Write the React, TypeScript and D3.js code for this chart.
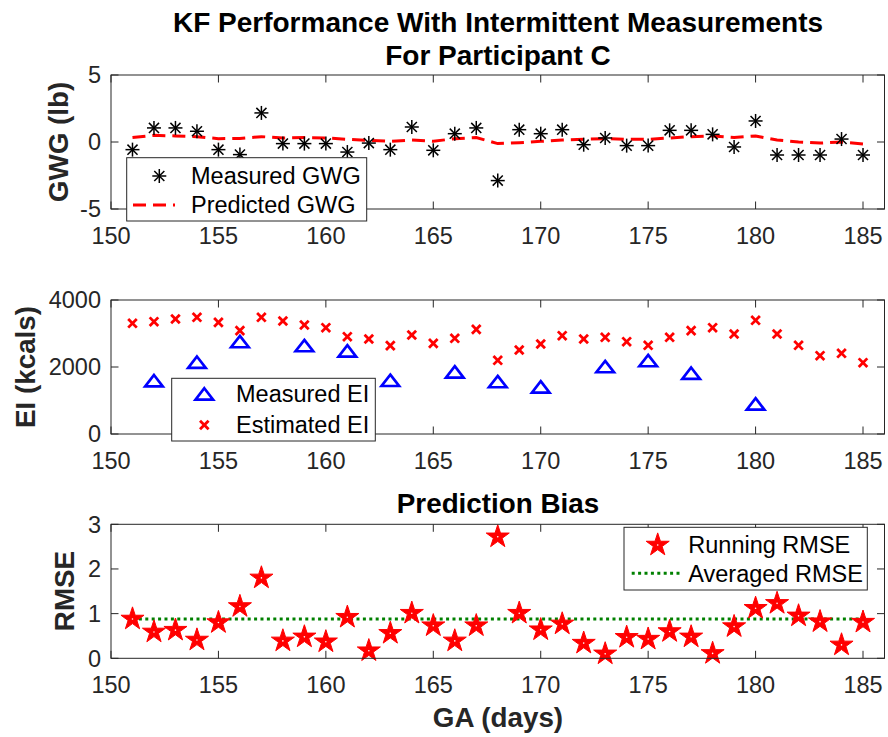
import React from "react";
import * as d3 from "d3";

const days = [151,152,153,154,155,156,157,158,159,160,161,162,163,164,165,166,167,168,169,170,171,172,173,174,175,176,177,178,179,180,181,182,183,184,185];
const gwgMeasured = [-0.57,1.05,1.05,0.8,-0.57,-0.94,2.17,-0.12,-0.12,-0.12,-0.75,-0.08,-0.57,1.12,-0.62,0.62,1.05,-2.88,0.92,0.62,0.92,-0.2,0.3,-0.27,-0.27,0.87,0.87,0.57,-0.37,1.57,-0.97,-0.97,-0.97,0.22,-0.97];
const gwgPredicted = [0.33,0.5,0.45,0.4,0.25,0.27,0.4,0.3,0.33,0.3,0.2,0.12,0.05,0.15,0.05,0.25,0.33,-0.12,-0.05,0.05,0.15,0.2,0.25,0.2,0.2,0.3,0.4,0.45,0.33,0.45,0.15,0,-0.08,0,-0.15];
const eiEstimated = [3304,3353,3433,3483,3333,3085,3483,3373,3254,3174,2905,2836,2637,2955,2706,2856,3124,2199,2507,2687,2935,2836,2886,2756,2647,2886,3085,3174,2985,3393,2985,2647,2338,2408,2129];
const eiMeasuredDays = [152,154,156,159,161,163,166,168,170,173,175,177,180];
const eiMeasured = [1587,2139,2756,2637,2478,1600,1851,1562,1403,2010,2189,1811,896];
const rmse = [0.88,0.59,0.63,0.41,0.80,1.16,1.80,0.39,0.48,0.37,0.92,0.17,0.56,1.01,0.73,0.39,0.73,2.72,1.01,0.64,0.77,0.34,0.10,0.47,0.43,0.60,0.48,0.11,0.71,1.12,1.23,0.95,0.82,0.30,0.81];
const avgRmse = 0.88;

const xTicks = [150,155,160,165,170,175,180,185];
const gwgTicks = [-5,0,5];
const eiTicks = [0,2000,4000];
const rmseTicks = [0,1,2,3];

const FONT = "'Liberation Sans', Arial, Helvetica, sans-serif";
const AX = "#262626";
const TICK_FS = 23.5;
const LABEL_FS = 27.8;
const TITLE_FS = 28;

const x = d3.scaleLinear().domain([150, 186]).range([111, 884.5]);
const yTop = d3.scaleLinear().domain([-5, 5]).range([209, 75]);
const yMid = d3.scaleLinear().domain([0, 4000]).range([434, 300]);
const yBot = d3.scaleLinear().domain([0, 3]).range([658.3, 524.3]);

const starPath = d3.symbol(d3.symbolStar, 165)() as string;

function Asterisk({ cx, cy }: { cx: number; cy: number }) {
  const r = 7;
  const d = r * 0.72;
  return (
    <g stroke="#000" strokeWidth={1.5}>
      <line x1={cx} y1={cy - r} x2={cx} y2={cy + r} />
      <line x1={cx - r} y1={cy} x2={cx + r} y2={cy} />
      <line x1={cx - d} y1={cy - d} x2={cx + d} y2={cy + d} />
      <line x1={cx - d} y1={cy + d} x2={cx + d} y2={cy - d} />
    </g>
  );
}

function Cross({ cx, cy }: { cx: number; cy: number }) {
  const r = 4.3;
  return (
    <g stroke="#ff0000" strokeWidth={2.8}>
      <line x1={cx - r} y1={cy - r} x2={cx + r} y2={cy + r} />
      <line x1={cx - r} y1={cy + r} x2={cx + r} y2={cy - r} />
    </g>
  );
}

function Tri({ cx, cy }: { cx: number; cy: number }) {
  return (
    <path
      d={`M${cx},${cy - 5.8}L${cx + 8.8},${cy + 5.6}L${cx - 8.8},${cy + 5.6}Z`}
      fill="none"
      stroke="#0000ff"
      strokeWidth={2.7}
      strokeLinejoin="miter"
    />
  );
}

function Star({ cx, cy }: { cx: number; cy: number }) {
  return (
    <g transform={`translate(${cx},${cy})`}>
      <path d={starPath} fill="#ff0000" stroke="#ff0000" strokeWidth={1} />
      <circle r={0.8} fill="#fff" />
    </g>
  );
}

function Axes({ y, yTicks, fmt }: { y: d3.ScaleLinear<number, number>; yTicks: number[]; fmt: (v: number) => string }) {
  const [x0, x1] = x.range();
  const [yb, yt] = y.range();
  const tl = 7.5;
  return (
    <g>
      {xTicks.map((t) => (
        <g key={"x" + t}>
          <line x1={x(t)} x2={x(t)} y1={yb} y2={yb - tl} stroke={AX} strokeWidth={1} />
          <line x1={x(t)} x2={x(t)} y1={yt} y2={yt + tl} stroke={AX} strokeWidth={1} />
          <text x={x(t)} y={yb + 35} textAnchor="middle" fontSize={TICK_FS} fill={AX} fontFamily={FONT}>
            {t}
          </text>
        </g>
      ))}
      {yTicks.map((t) => (
        <g key={"y" + t}>
          <line x1={x0} x2={x0 + tl} y1={y(t)} y2={y(t)} stroke={AX} strokeWidth={1} />
          <line x1={x1} x2={x1 - tl} y1={y(t)} y2={y(t)} stroke={AX} strokeWidth={1} />
          <text x={x0 - 10} y={y(t)} dy="0.36em" textAnchor="end" fontSize={TICK_FS} fill={AX} fontFamily={FONT}>
            {fmt(t)}
          </text>
        </g>
      ))}
      <rect x={x0} y={yt} width={x1 - x0} height={yb - yt} fill="none" stroke={AX} strokeWidth={1} />
    </g>
  );
}

export default function App() {
  const predLine = d3
    .line<number>()
    .x((_, i) => x(days[i]))
    .y((v) => yTop(v))(gwgPredicted) as string;

  return (
    <svg
      width={888}
      height={737}
      style={{ position: "absolute", left: 0, top: 0, background: "#fff" }}
      fontFamily={FONT}
    >
      <rect x={0} y={0} width={888} height={737} fill="#fff" />
      {/* Title */}
      <text x={498} y={31.5} textAnchor="middle" fontSize={TITLE_FS} fontWeight="bold" fill="#000">
        KF Performance With Intermittent Measurements
      </text>
      <text x={498} y={65} textAnchor="middle" fontSize={TITLE_FS} fontWeight="bold" fill="#000">
        For Participant C
      </text>

      {/* Top panel */}
      <path d={predLine} fill="none" stroke="#ff0000" strokeWidth={3} strokeDasharray="13,7" />
      {days.map((d, i) => (
        <Asterisk key={"g" + d} cx={x(d)} cy={yTop(gwgMeasured[i])} />
      ))}
      <Axes y={yTop} yTicks={gwgTicks} fmt={(v) => (v < 0 ? "-" + Math.abs(v) : String(v))} />
      <text transform={`translate(68,142) rotate(-90)`} textAnchor="middle" fontSize={LABEL_FS} fontWeight="bold" fill={AX}>
        GWG (lb)
      </text>
      <g>
        <rect x={126.7} y={157.7} width={240} height={63.3} fill="#fff" stroke={AX} strokeWidth={1} />
        <Asterisk cx={159.3} cy={176} />
        <text x={191} y={176} dy="0.36em" fontSize={TICK_FS} fill="#000">Measured GWG</text>
        <line x1={133} x2={175} y1={205} y2={205} stroke="#ff0000" strokeWidth={3} strokeDasharray="13,7" />
        <text x={191} y={205} dy="0.36em" fontSize={TICK_FS} fill="#000">Predicted GWG</text>
      </g>

      {/* Middle panel */}
      {days.map((d, i) => (
        <Cross key={"e" + d} cx={x(d)} cy={yMid(eiEstimated[i])} />
      ))}
      {eiMeasuredDays.map((d, i) => (
        <Tri key={"m" + d} cx={x(d)} cy={yMid(eiMeasured[i])} />
      ))}
      <Axes y={yMid} yTicks={eiTicks} fmt={(v) => String(v)} />
      <text transform={`translate(35,367) rotate(-90)`} textAnchor="middle" fontSize={LABEL_FS} fontWeight="bold" fill={AX}>
        EI (kcals)
      </text>
      <g>
        <rect x={171.7} y={378.3} width={203.6} height={62.7} fill="#fff" stroke={AX} strokeWidth={1} />
        <Tri cx={204.3} cy={394} />
        <text x={236} y={394} dy="0.36em" fontSize={TICK_FS} fill="#000">Measured EI</text>
        <Cross cx={204.3} cy={425} />
        <text x={236} y={425} dy="0.36em" fontSize={TICK_FS} fill="#000">Estimated EI</text>
      </g>

      {/* Bottom panel */}
      <text x={498} y={513.3} textAnchor="middle" fontSize={LABEL_FS} fontWeight="bold" fill="#000">
        Prediction Bias
      </text>
      <line
        x1={x(days[0])}
        x2={x(days[days.length - 1])}
        y1={yBot(avgRmse)}
        y2={yBot(avgRmse)}
        stroke="#008000"
        strokeWidth={3}
        strokeDasharray="3,3.4"
      />
      {days.map((d, i) => (
        <Star key={"s" + d} cx={x(d)} cy={yBot(rmse[i])} />
      ))}
      <Axes y={yBot} yTicks={rmseTicks} fmt={(v) => String(v)} />
      <text transform={`translate(74,591) rotate(-90)`} textAnchor="middle" fontSize={LABEL_FS} fontWeight="bold" fill={AX}>
        RMSE
      </text>
      <g>
        <rect x={624} y={527.3} width={243.3} height={62.7} fill="#fff" stroke={AX} strokeWidth={1} />
        <Star cx={657.7} cy={545} />
        <text x={688.3} y={545} dy="0.36em" fontSize={TICK_FS} fill="#000">Running RMSE</text>
        <line x1={631.7} x2={681.7} y1={573.3} y2={573.3} stroke="#008000" strokeWidth={3} strokeDasharray="3,3.4" />
        <text x={688.3} y={573.3} dy="0.36em" fontSize={TICK_FS} fill="#000">Averaged RMSE</text>
      </g>
      <text x={498} y={727} textAnchor="middle" fontSize={LABEL_FS} fontWeight="bold" fill={AX}>
        GA (days)
      </text>
    </svg>
  );
}
